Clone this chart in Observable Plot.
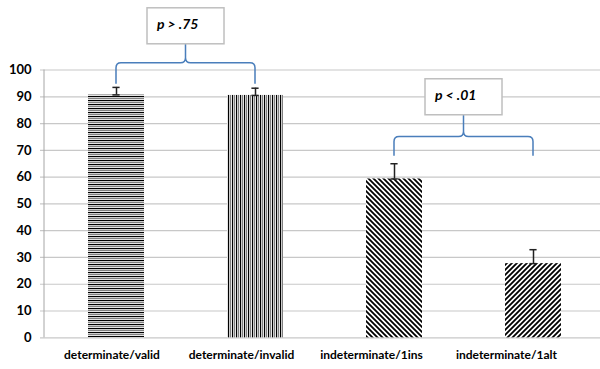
<!DOCTYPE html>
<html>
<head>
<meta charset="utf-8">
<script src="https://cdn.jsdelivr.net/npm/d3@7"></script>
<script src="https://cdn.jsdelivr.net/npm/@observablehq/plot@0.6"></script>
<style>
  html, body { margin: 0; padding: 0; background: #fff; }
  #chart { width: 600px; height: 369px; }
</style>
</head>
<body>
<div id="chart"></div>
<script>
// ---- data ----
const categories = ["determinate/valid", "determinate/invalid", "indeterminate/1ins", "indeterminate/1alt"];
const values = [90.7, 90.5, 59.3, 27.7];
const errors = [2.8, 2.7, 5.7, 5.2];
const yTicks = [0, 10, 20, 30, 40, 50, 60, 70, 80, 90, 100];
// comparisons: [from, to], arm bottom, bracket bar, bracket peak (y units), label parts
const compFrom = ["determinate/valid", "indeterminate/1ins"];
const compTo = ["determinate/invalid", "indeterminate/1alt"];
const compArmY = [94.7, 67.8];
const compBarY = [102.5, 75.0];
const compPeakY = [109.6, 83.1];
const compSign = ["> .75", "< .01"];

const rows = categories.map((c, i) => ({cat: c, value: values[i], err: errors[i], idx: i}));
const comps = compFrom.map((f, i) => ({from: f, to: compTo[i], arm: compArmY[i], bar: compBarY[i], peak: compPeakY[i], sign: compSign[i]}));

const FONT = "Lato, 'Open Sans', sans-serif";
// category labels sit slightly left of their bars, as in the original layout
const labelNudge = [-4.5, -14, -23, -27];

function axisLine(index, scales, values, dim) {
  const g = d3.create("svg:g");
  g.append("line")
    .attr("x1", dim.marginLeft).attr("x2", dim.marginLeft)
    .attr("y1", scales.y(0)).attr("y2", scales.y(100))
    .attr("stroke", "#a6a6a6").attr("stroke-width", 1);
  return g.node();
}

function brackets(index, scales, values, dim) {
  const g = d3.create("svg:g");
  const bw = scales.x.bandwidth ? scales.x.bandwidth() : 0;
  const cx = c => scales.x(c) + bw / 2;
  const r = 5;
  for (const c of comps) {
    const x1 = cx(c.from), x2 = cx(c.to), xm = (x1 + x2) / 2;
    const ya = scales.y(c.arm), yb = scales.y(c.bar), yp = scales.y(c.peak);
    const p = `M${x1},${ya} V${yb + r} Q${x1},${yb} ${x1 + r},${yb} H${xm - r} Q${xm},${yb} ${xm},${yb - r} V${yp}` +
              ` M${x2},${ya} V${yb + r} Q${x2},${yb} ${x2 - r},${yb} H${xm + r} Q${xm},${yb} ${xm},${yb - r}`;
    g.append("path").attr("d", p).attr("fill", "none")
      .attr("stroke", "#4a7ebb").attr("stroke-width", 1.5);
    const bwid = 77, bht = 36;
    g.append("rect").attr("x", xm - bwid / 2).attr("y", yp - bht)
      .attr("width", bwid).attr("height", bht)
      .attr("fill", "#fff").attr("stroke", "#bfbfbf").attr("stroke-width", 1.5);
    const t = g.append("text").attr("x", xm - bwid / 2 + 10).attr("y", yp - bht + 21)
      .attr("text-anchor", "start")
      .attr("font-family", FONT).attr("font-size", 14).attr("font-weight", "bold")
      .attr("font-style", "italic").attr("fill", "#000");
    t.append("tspan").text("p");
    t.append("tspan").text(" " + c.sign);
  }
  return g.node();
}

const chart = Plot.plot({
  width: 600,
  height: 369,
  marginLeft: 44,
  marginRight: 0,
  marginTop: 69.5,
  marginBottom: 31.7,
  style: {fontFamily: FONT, background: "#fff", color: "#000", overflow: "visible"},
  x: {domain: categories, range: [45.25, 603.25], paddingInner: 0.6, paddingOuter: 0.3, axis: null},
  y: {domain: [0, 100], axis: null},
  marks: [
    Plot.ruleY(yTicks, {y: d => d, stroke: "#c8c8c8", strokeWidth: 1.2, insetLeft: -4}),
    axisLine,
    Plot.barY(rows, {x: "cat", y: "value", fill: d => `url(#pat${d.idx})`}),
    Plot.ruleX(rows, {x: "cat", y1: "value", y2: d => d.value + d.err, stroke: "#222", strokeWidth: 1.5}),
    Plot.tickY(rows, {x: "cat", y: d => d.value + d.err, stroke: "#222", strokeWidth: 1.5, insetLeft: 24.4, insetRight: 24.4}),
    Plot.tickY(rows, {x: "cat", y: "value", stroke: "#222", strokeWidth: 1.5, insetLeft: 24.4, insetRight: 24.4}),
    Plot.text(yTicks, {y: d => d, text: d => String(d), frameAnchor: "left", textAnchor: "end", dx: -13,
      fontSize: 13, fontWeight: "bold", fill: "#000"}),
    ...categories.map((c, i) => Plot.text([c], {x: d => d, text: d => d, frameAnchor: "bottom", dy: 21, dx: labelNudge[i],
      fontSize: 12, fontWeight: "bold", fill: "#000"})),
    brackets
  ]
});

// hatch patterns
const svg = d3.select(chart.tagName.toLowerCase() === "svg" ? chart : chart.querySelector("svg"));
const defs = svg.insert("defs", ":first-child");
// 0: horizontal lines
let p = defs.append("pattern").attr("id", "pat0").attr("patternUnits", "userSpaceOnUse").attr("width", 4).attr("height", 4);
p.append("rect").attr("width", 4).attr("height", 4).attr("fill", "#fff");
p.append("rect").attr("y", 0).attr("width", 4).attr("height", 1.2).attr("fill", "#000");
p.append("rect").attr("y", 2).attr("width", 4).attr("height", 1.2).attr("fill", "#808080");
// 1: vertical lines
p = defs.append("pattern").attr("id", "pat1").attr("patternUnits", "userSpaceOnUse").attr("width", 4).attr("height", 4);
p.append("rect").attr("width", 4).attr("height", 4).attr("fill", "#fff");
p.append("rect").attr("x", 0).attr("width", 1.2).attr("height", 4).attr("fill", "#000");
p.append("rect").attr("x", 2).attr("width", 1.2).attr("height", 4).attr("fill", "#808080");
// 2: diagonal down-right
p = defs.append("pattern").attr("id", "pat2").attr("patternUnits", "userSpaceOnUse").attr("width", 5).attr("height", 5);
p.append("rect").attr("width", 5).attr("height", 5).attr("fill", "#fff");
p.append("path").attr("d", "M-1,-1 L6,6 M-1,4 L1,6 M4,-1 L6,1").attr("stroke", "#000").attr("stroke-width", 1.8);
// 3: diagonal up-right
p = defs.append("pattern").attr("id", "pat3").attr("patternUnits", "userSpaceOnUse").attr("width", 5).attr("height", 5);
p.append("rect").attr("width", 5).attr("height", 5).attr("fill", "#fff");
p.append("path").attr("d", "M-1,6 L6,-1 M-1,1 L1,-1 M4,6 L6,4").attr("stroke", "#000").attr("stroke-width", 1.8);

document.getElementById("chart").appendChild(chart);
</script>
</body>
</html>
